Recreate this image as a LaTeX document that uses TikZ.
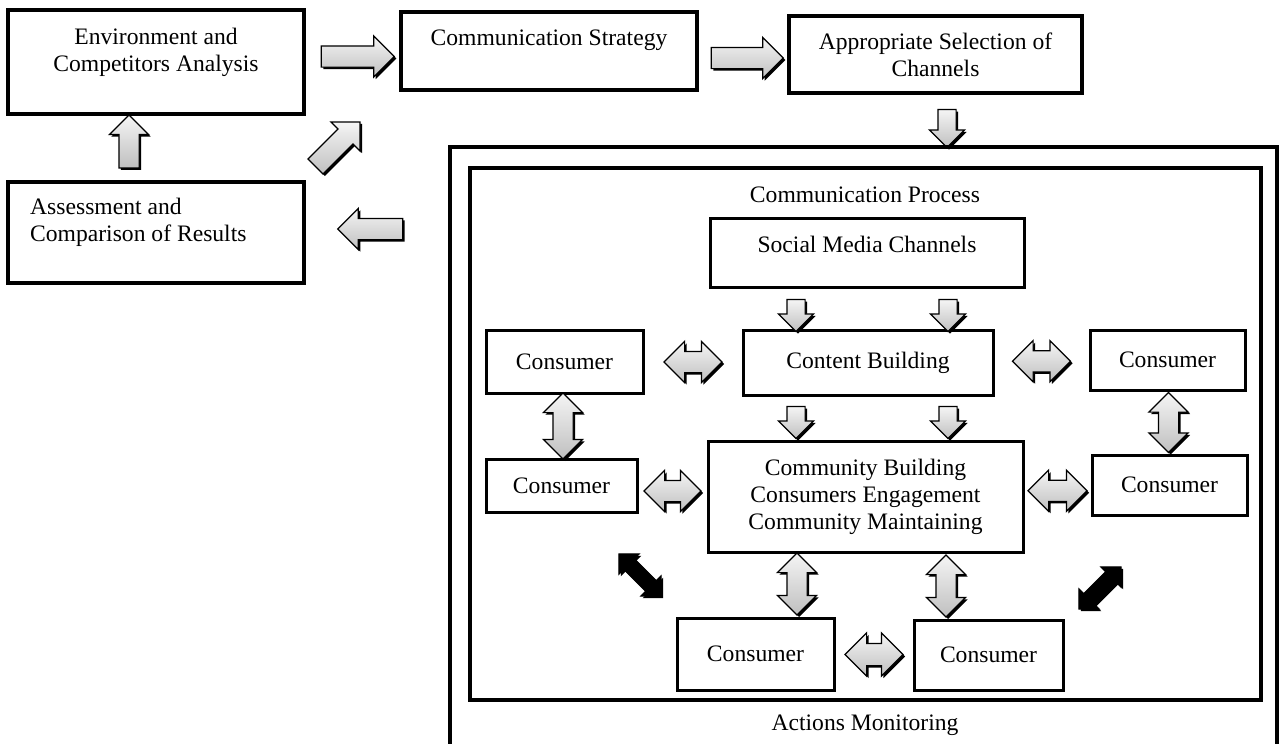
\documentclass[tikz,border=0pt]{standalone}
\usepackage{fontspec}
\setmainfont{Liberation Serif}
\usetikzlibrary{positioning}
\usetikzlibrary{calc}
\usetikzlibrary{shapes.arrows}
\usetikzlibrary{shadows}

\begin{document}
\begin{tikzpicture}[x=1pt, y=-1pt,
    box/.style={draw, fill=white, line width=#1, align=center, inner sep=0pt,
        font=\fontsize{23.6}{27}\selectfont,
        drop shadow={shadow xshift=1.5pt, shadow yshift=-1.5pt, fill=black!80, opacity=1}},
    box/.default=3pt,
    frame/.style={draw, line width=4.5pt},
    txt/.style={align=center, inner sep=0pt, font=\fontsize{23.6}{27}\selectfont},
    sarrow/.style={single arrow, draw, line width=1.2pt, minimum width=0pt,
        single arrow head extend=#1, inner xsep=1pt, inner ysep=#1,
        top color=gray!8, bottom color=gray!50,
        drop shadow={shadow xshift=2pt, shadow yshift=-2pt, fill=black, opacity=1}},
    sarrow/.default=10pt,
    darrow/.style={double arrow, draw, line width=1.2pt, minimum width=0pt,
        double arrow head extend=#1, inner xsep=1pt, inner ysep=#1,
        top color=gray!8, bottom color=gray!50,
        drop shadow={shadow xshift=2pt, shadow yshift=-2pt, fill=black, opacity=1}},
    darrow/.default=10pt,
    karrow/.style={double arrow, draw, fill=black, line width=1pt, minimum width=0pt,
        double arrow head extend=7pt, inner xsep=1pt, inner ysep=7pt,
        minimum height=60pt,
        drop shadow={shadow xshift=2pt, shadow yshift=-2pt, fill=black, opacity=1}}]

    \path[use as bounding box, fill=white] (0,0) rectangle (1286,744);

    % planning loop
    \node[box=4pt, minimum width=296pt, minimum height=104pt] (env) at (156,62) {};
    \node[txt, below=20pt of env.north] (env-t) {Environment and\\Competitors Analysis};
    \node[box=4pt, minimum width=296pt, minimum height=78pt] (strat) at (549,51) {};
    \node[txt, below=20pt of strat.north] (strat-t) {Communication Strategy};
    \node[box=4pt, minimum width=293pt, minimum height=77pt] (chan) at (935.5,54.5)
        {Appropriate Selection of\\Channels};
    \node[box=4pt, minimum width=296pt, minimum height=101pt] (assess) at (156,232.5) {};
    \node[txt, align=left, below right=18pt and 24pt of assess.north west] (assess-t)
        {Assessment and\\Comparison of Results};

    \node[sarrow, minimum height=73pt] (a1) at ($(env.east)!.5!(strat.west)$) {};
    \node[sarrow, minimum height=72pt] (a2) at (742,58) {};
    \node[sarrow=8.5pt, minimum height=38pt, rotate=-90] (a3) at (947,124) {};
    \node[sarrow=9.5pt, minimum height=53pt, rotate=90] (a4) at (129,146.5) {};
    \node[sarrow, minimum height=63pt, rotate=45] (a5) at (334,148) {};
    \node[sarrow, minimum height=65pt, rotate=180] (a6) at (375.5,229) {};

    % monitoring and process frames
    \node[frame, minimum width=827pt, minimum height=603pt] (monitor) at (863.5,448.5) {};
    \node[frame, minimum width=791pt, minimum height=532pt] (proc) at (865.5,434) {};
    \node[txt] (proc-t) at (865,195) {Communication Process};
    \node[txt] (monitor-t) at (865,725) {Actions Monitoring};

    \node[box, minimum width=314pt, minimum height=69pt] (social) at (867,252.5) {};
    \node[txt, below=19pt of social.north] (social-t) {Social Media Channels};
    \node[box, minimum width=250pt, minimum height=65pt] (content) at (868,362.5) {Content Building};
    \node[box, minimum width=315pt, minimum height=111pt] (comm) at (865.5,496.5)
        {Community Building\\Consumers Engagement\\Community Maintaining};

    \node[box, minimum width=157pt, minimum height=63pt] (consLT) at (564.5,361.5) {Consumer};
    \node[box, minimum width=155pt, minimum height=60pt] (consRT) at (1167.5,360) {Consumer};
    \node[box, minimum width=151pt, minimum height=53pt] (consLM) at (561.5,485.5) {Consumer};
    \node[box, minimum width=155pt, minimum height=60pt] (consRM) at (1169.5,485) {Consumer};
    \node[box, minimum width=157pt, minimum height=72pt] (consBL) at (755.5,654) {Consumer};
    \node[box, minimum width=149pt, minimum height=70pt] (consBR) at (988.5,655) {Consumer};

    \node[sarrow=8.5pt, minimum height=32pt, rotate=-90] (s1) at (796,311) {};
    \node[sarrow=8.5pt, minimum height=32pt, rotate=-90] (s2) at (948,311) {};
    \node[sarrow=8.5pt, minimum height=32pt, rotate=-90] (s3) at (796,418) {};
    \node[sarrow=8.5pt, minimum height=32pt, rotate=-90] (s4) at (948,418) {};

    \node[darrow, minimum height=58pt] (d1) at ($(consLT.east)!.5!(content.west)$) {};
    \node[darrow, minimum height=58pt] (d2) at ($(content.east)!.5!(consRT.west)$) {};
    \node[darrow, minimum height=57pt] (d3) at ($(consLM.east)!.5!(comm.west)$) {};
    \node[darrow, minimum height=59pt] (d4) at ($(comm.east)!.5!(consRM.west)$) {};
    \node[darrow=10.5pt, minimum height=58pt] (d5) at ($(consBL.east)!.5!(consBR.west)$) {};
    \node[darrow=9.5pt, minimum height=66pt, rotate=90] (v1) at ($(consLT.south)!.5!(consLM.north)$) {};
    \node[darrow=9.5pt, minimum height=60pt, rotate=90] (v2) at ($(consRT.south)!.5!(consRM.north)$) {};
    \node[darrow=9.5pt, minimum height=62pt, rotate=90] (v3) at (797,584) {};
    \node[darrow=9.5pt, minimum height=62pt, rotate=90] (v4) at (946,586) {};

    \node[karrow, rotate=-45] (k1) at (640,575) {};
    \node[karrow, rotate=45] (k2) at (1100,588) {};
\end{tikzpicture}
\end{document}
